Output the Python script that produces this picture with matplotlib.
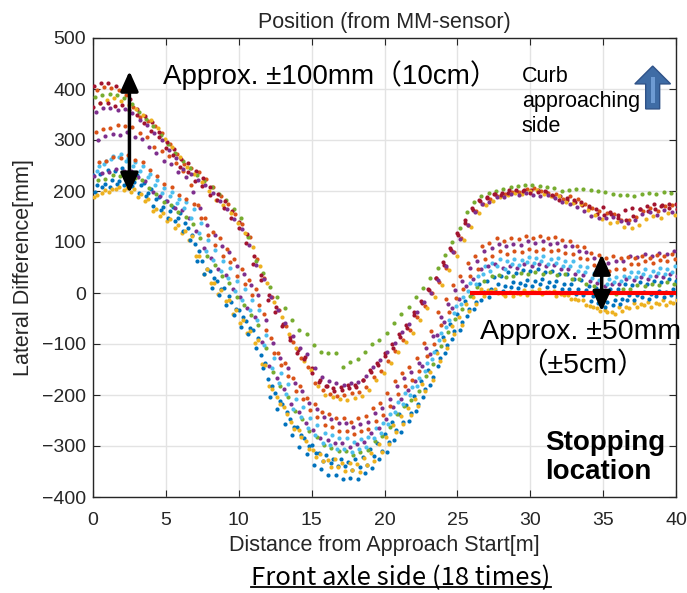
import numpy as np
import matplotlib
matplotlib.use("Agg")
import matplotlib.pyplot as plt
from matplotlib.patches import FancyArrow, Rectangle
from matplotlib.lines import Line2D

plt.rcParams['font.family'] = ['Liberation Sans', 'Noto Sans CJK JP', 'DejaVu Sans']

# lateral difference [mm] of each run, sampled every 0.5 m from the approach start
run01 = [232, 233, 241, 240, 245, 236, 231, 216, 204, 188,
         181, 168, 157, 128, 97, 63, 44, 23, 10, -17,
         -33, -54, -73, -122, -168, -197, -218, -247, -263, -285,
         -298, -314, -318, -325, -325, -332, -326, -322, -305, -295,
         -277, -253, -237, -220, -202, -173, -150, -113, -87, -60,
         -42, -16, -2, 17, 23, 32, 33, 42, 40, 46,
         43, 47, 42, 44, 38, 37, 28, 26, 14, 10,
         3, 7, 8, 17, 16, 22, 18, 24, 22, 27,
         23]
run02 = [398, 403, 402, 398, 388, 365, 345, 337, 328, 313,
         292, 272, 253, 245, 237, 223, 208, 190, 174, 155,
         136, 110, 67, 30, -8, -33, -65, -97, -127, -145,
         -177, -190, -198, -202, -200, -196, -195, -185, -165, -152,
         -133, -113, -92, -73, -48, -25, 0, 22, 50, 80,
         108, 133, 160, 175, 184, 190, 194, 199, 198, 204,
         205, 200, 196, 195, 185, 190, 184, 175, 166, 160,
         156, 154, 144, 143, 149, 160, 166, 160, 170, 172,
         172]
run03 = [188, 196, 199, 204, 201, 199, 188, 180, 160, 151,
         142, 128, 117, 103, 72, 38, 19, -2, -15, -42,
         -58, -79, -98, -140, -182, -203, -223, -252, -268, -290,
         -307, -315, -327, -326, -334, -333, -336, -323, -314, -296,
         -282, -258, -242, -225, -207, -178, -155, -118, -92, -65,
         -47, -21, -7, 7, 6, 7, -2, 2, 0, 6,
         3, 7, 2, 4, -2, -3, -12, -14, -26, -30,
         -33, -37, -28, -27, -20, -22, -18, -20, -14, -17,
         -13]
run04 = [300, 308, 312, 310, 315, 306, 302, 286, 274, 258,
         252, 238, 227, 198, 167, 133, 114, 93, 80, 53,
         37, 16, -3, -52, -98, -127, -148, -177, -193, -215,
         -228, -244, -248, -255, -255, -262, -256, -252, -235, -225,
         -207, -183, -167, -155, -137, -108, -85, -48, -22, 5,
         23, 49, 63, 82, 88, 97, 92, 97, 95, 101,
         98, 102, 97, 99, 93, 92, 83, 81, 69, 65,
         58, 62, 63, 72, 71, 77, 73, 79, 77, 82,
         78]
run05 = [385, 388, 390, 388, 383, 370, 355, 342, 328, 310,
         292, 275, 258, 245, 232, 220, 208, 195, 182, 165,
         148, 110, 62, 40, 12, -8, -30, -52, -72, -80,
         -102, -115, -118, -117, -145, -136, -130, -115, -100, -92,
         -78, -58, -42, -28, -8, 10, 30, 50, 75, 100,
         128, 158, 178, 190, 196, 200, 204, 207, 210, 212,
         211, 210, 208, 205, 200, 202, 204, 203, 201, 200,
         198, 194, 192, 193, 191, 195, 196, 195, 198, 197,
         200]
run06 = [249, 258, 268, 272, 265, 257, 249, 233, 221, 205,
         199, 185, 178, 165, 137, 103, 84, 63, 50, 23,
         7, -14, -33, -82, -128, -157, -178, -207, -223, -245,
         -258, -274, -278, -285, -285, -292, -286, -282, -265, -255,
         -237, -213, -197, -185, -167, -138, -115, -78, -52, -25,
         -7, 19, 33, 52, 58, 67, 62, 67, 65, 71,
         68, 72, 67, 69, 63, 62, 53, 51, 39, 35,
         28, 32, 33, 42, 41, 47, 43, 49, 47, 52,
         48]
run07 = [405, 412, 412, 406, 398, 380, 360, 347, 336, 315,
         297, 283, 263, 255, 240, 225, 208, 195, 180, 160,
         140, 115, 72, 35, -3, -28, -60, -87, -112, -125,
         -147, -170, -183, -192, -190, -186, -185, -170, -155, -142,
         -123, -108, -87, -68, -43, -20, 5, 30, 55, 85,
         113, 138, 163, 180, 188, 195, 196, 202, 200, 202,
         201, 202, 198, 190, 190, 182, 179, 173, 166, 155,
         153, 154, 147, 143, 151, 165, 161, 165, 173, 167,
         165]
run08 = [212, 214, 221, 220, 225, 217, 211, 196, 184, 169,
         161, 148, 137, 113, 82, 48, 29, 8, -5, -32,
         -48, -69, -88, -137, -183, -212, -233, -262, -278, -300,
         -313, -329, -333, -340, -340, -347, -341, -337, -320, -310,
         -292, -268, -252, -235, -217, -188, -165, -128, -102, -75,
         -57, -31, -17, 2, 8, 17, 13, 22, 20, 26,
         23, 27, 22, 24, 18, 17, 8, 6, -6, -10,
         -17, -13, -12, -3, -4, 2, -2, 4, 2, 7,
         3]
run09 = [316, 322, 324, 330, 327, 325, 314, 306, 286, 278,
         268, 254, 240, 212, 173, 147, 120, 107, 86, 67,
         47, 26, 7, -42, -88, -117, -138, -167, -183, -205,
         -218, -234, -238, -245, -245, -252, -246, -242, -225, -215,
         -197, -173, -157, -145, -127, -98, -75, -38, -12, 15,
         33, 59, 73, 92, 98, 107, 102, 107, 105, 111,
         108, 112, 107, 109, 103, 102, 93, 91, 79, 75,
         68, 72, 68, 71, 69, 73, 68, 74, 72, 77,
         78]
run10 = [372, 378, 382, 376, 368, 360, 350, 340, 323, 302,
         287, 267, 248, 233, 217, 200, 183, 173, 157, 137,
         118, 90, 52, 20, -18, -48, -80, -107, -134, -150,
         -182, -200, -203, -207, -210, -206, -202, -190, -170, -157,
         -138, -116, -97, -78, -53, -30, -8, 15, 45, 72,
         103, 130, 156, 172, 181, 188, 192, 197, 195, 200,
         201, 195, 190, 190, 178, 177, 174, 163, 153, 145,
         138, 139, 130, 128, 133, 145, 151, 147, 156, 152,
         152]
run11 = [229, 236, 238, 243, 240, 239, 227, 219, 199, 191,
         181, 167, 162, 148, 122, 88, 69, 48, 35, 8,
         -8, -29, -48, -97, -143, -167, -188, -217, -233, -255,
         -268, -284, -288, -295, -295, -302, -296, -292, -275, -265,
         -247, -223, -207, -190, -172, -143, -120, -83, -57, -30,
         -12, 14, 28, 47, 53, 56, 50, 52, 50, 56,
         53, 57, 52, 54, 48, 47, 38, 36, 24, 20,
         13, 17, 18, 27, 26, 32, 28, 34, 32, 37,
         33]
run12 = [222, 223, 232, 230, 235, 226, 222, 206, 194, 178,
         172, 158, 150, 135, 107, 73, 54, 33, 20, -7,
         -23, -44, -63, -108, -155, -182, -203, -232, -248, -270,
         -283, -299, -303, -310, -310, -317, -311, -307, -290, -280,
         -262, -238, -222, -210, -192, -163, -140, -103, -77, -50,
         -32, -6, 12, 23, 33, 36, 32, 33, 39, 37,
         42, 38, 41, 35, 37, 28, 27, 17, 13, 1,
         2, -2, 7, 8, 15, 13, 17, 15, 21, 18,
         22]
run13 = [240, 252, 262, 266, 258, 250, 240, 228, 212, 196,
         190, 176, 167, 148, 117, 83, 64, 43, 30, 3,
         -13, -34, -53, -102, -148, -177, -198, -227, -243, -265,
         -278, -294, -298, -305, -305, -312, -306, -302, -285, -275,
         -257, -233, -217, -200, -182, -153, -130, -93, -67, -40,
         -22, 4, 18, 37, 43, 52, 48, 57, 55, 61,
         58, 62, 57, 59, 53, 52, 43, 41, 29, 25,
         18, 22, 23, 32, 31, 37, 33, 39, 37, 42,
         38]
run14 = [365, 373, 372, 366, 368, 358, 350, 334, 318, 305,
         284, 270, 248, 237, 220, 210, 193, 183, 167, 147,
         128, 98, 57, 25, -13, -38, -65, -92, -117, -130,
         -157, -175, -183, -187, -185, -181, -180, -170, -150, -137,
         -118, -100, -80, -63, -38, -15, 8, 30, 60, 88,
         118, 143, 166, 182, 186, 194, 192, 197, 202, 200,
         196, 198, 200, 193, 182, 187, 182, 178, 171, 165,
         168, 159, 152, 163, 166, 165, 171, 175, 170, 175,
         175]
run15 = [198, 207, 208, 214, 211, 209, 197, 190, 170, 162,
         148, 142, 122, 103, 62, 37, 10, -3, -24, -43,
         -67, -80, -108, -147, -203, -228, -257, -278, -302, -316,
         -337, -345, -357, -356, -364, -363, -365, -353, -344, -326,
         -312, -288, -272, -250, -232, -203, -180, -143, -117, -90,
         -72, -46, -32, -13, -7, 2, 3, 12, 10, 16,
         13, 17, 12, 14, 8, 7, -2, -4, -16, -20,
         -27, -23, -22, -13, -14, -8, -12, -6, -8, -3,
         -7]
run16 = [257, 258, 267, 265, 270, 261, 257, 241, 229, 213,
         207, 193, 185, 175, 147, 113, 94, 73, 60, 33,
         17, -4, -23, -72, -118, -142, -163, -192, -208, -230,
         -243, -259, -263, -270, -270, -277, -271, -267, -250, -240,
         -222, -198, -182, -170, -152, -123, -100, -63, -37, -10,
         8, 34, 48, 67, 73, 82, 77, 82, 80, 86,
         83, 87, 82, 84, 78, 77, 68, 66, 54, 50,
         43, 47, 48, 57, 56, 62, 58, 64, 62, 67,
         63]
run17 = [193, 201, 204, 208, 206, 204, 194, 185, 165, 156,
         146, 133, 121, 112, 73, 47, 20, 6, -14, -33,
         -53, -74, -93, -142, -188, -217, -238, -267, -283, -305,
         -322, -330, -342, -341, -349, -348, -350, -338, -329, -311,
         -297, -273, -257, -240, -222, -193, -170, -133, -107, -80,
         -62, -36, -22, -5, 3, 0, -6, -6, -1, -3,
         2, -2, 1, -5, -3, -12, -14, -23, -28, -36,
         -38, -41, -36, -29, -28, -24, -27, -22, -23, -19,
         -21]
run18 = [355, 363, 362, 358, 361, 352, 340, 330, 313, 300,
         280, 265, 243, 233, 222, 212, 196, 180, 164, 145,
         126, 95, 54, 28, -8, -33, -58, -84, -107, -120,
         -147, -165, -173, -177, -180, -176, -175, -163, -145, -132,
         -116, -98, -77, -60, -38, -18, 0, 25, 53, 80,
         106, 133, 158, 175, 178, 188, 189, 195, 192, 197,
         193, 190, 193, 187, 178, 174, 169, 161, 151, 148,
         148, 149, 142, 138, 143, 155, 158, 153, 163, 159,
         160]

runs = [run01, run02, run03, run04, run05, run06, run07, run08, run09,
        run10, run11, run12, run13, run14, run15, run16, run17, run18]
# distance of the first sample of each run [m]
x_first = [0.0, 0.25, 0.1, 0.35, 0.15, 0.4, 0.05, 0.3, 0.2,
           0.45, 0.1, 0.35, 0.25, 0.0, 0.15, 0.4, 0.3, 0.2]
step = 0.5

colors = ['#0072BD', '#D95319', '#EDB120', '#7E2F8E',
          '#77AC30', '#4DBEEE', '#A2142F']

fig = plt.figure(figsize=(6.87, 5.93), dpi=100)
ax = fig.add_axes([93 / 687, 1 - 497 / 593, (676 - 93) / 687, (497 - 38) / 593])

for i, vals in enumerate(runs):
    xs = x_first[i] + step * np.arange(len(vals))
    ax.scatter(xs, vals, s=9, color=colors[i % 7], linewidths=0, zorder=3)

ax.set_xlim(0, 40)
ax.set_ylim(-400, 500)
ax.set_xticks(np.arange(0, 41, 5))
ax.set_yticks(np.arange(-400, 501, 100))
ax.grid(True, color='#E3E3E3', lw=1)
ax.set_axisbelow(True)
ax.tick_params(direction='in', top=True, right=True, length=5, width=0.8,
               labelsize=14, colors='#262626')
ax.tick_params(axis='x', pad=11)
ax.tick_params(axis='y', pad=5)
for sp in ax.spines.values():
    sp.set_linewidth(1.0)
    sp.set_color('#262626')

ax.set_title('Position (from MM-sensor)', fontsize=15.5, pad=7, color='#262626')
ax.set_xlabel('Distance from Approach Start[m]', fontsize=15.5, labelpad=4,
              color='#262626')
ax.set_ylabel('Lateral Difference[mm]', fontsize=15.5, labelpad=6,
              color='#262626')

# red reference line at stop
ax.plot([25.9, 40], [0, 0], color='red', lw=3, zorder=4, solid_capstyle='butt')

# double arrows
arrow_style = '<|-|>,head_length=0.6,head_width=0.27'
ax.annotate('', xy=(2.5, 435), xytext=(2.5, 196),
            arrowprops=dict(arrowstyle=arrow_style, color='black', lw=2.5,
                            mutation_scale=20, shrinkA=0, shrinkB=0), zorder=5)
ax.annotate('', xy=(34.9, 76), xytext=(34.9, -36),
            arrowprops=dict(arrowstyle=arrow_style, color='black', lw=2.5,
                            mutation_scale=20, shrinkA=0, shrinkB=0), zorder=5)

ax.text(4.8, 427, 'Approx. ±100mm（10cm）', fontsize=20,
        ha='left', va='center', zorder=6)
ax.text(26.55, -76, 'Approx. ±50mm', fontsize=20.5,
        ha='left', va='center', zorder=6, clip_on=False)
ax.text(33.6, -143, '（±5cm）', fontsize=20.5,
        ha='center', va='center', zorder=6)
ax.text(31.0, -322, 'Stopping\nlocation', fontsize=20,
        fontweight='bold', ha='left', va='center', linespacing=1.15, zorder=6)
ax.text(29.43, 375, 'Curb\napproaching\nside', fontsize=15.5,
        ha='left', va='center', linespacing=1.25, zorder=6)

# blue "curb side" arrow
ax.add_patch(FancyArrow(38.4, 361, 0, 84, width=0.96, head_width=2.45,
                        head_length=35, length_includes_head=True,
                        fc='#3F6CA5', ec='#2F5288', lw=1, zorder=6, clip_on=False))
ax.add_patch(Rectangle((38.27, 373), 0.27, 51, fc='#6E9BD3', ec='none',
                       zorder=7, clip_on=False))

cap = fig.text(401 / 687, 1 - 578 / 593, 'Front axle side (18 times)',
               fontsize=18.5, ha='center', va='center',
               family=['Noto Sans CJK JP', 'DejaVu Sans'])
fig.canvas.draw()
bb = cap.get_window_extent().transformed(fig.transFigure.inverted())
fig.add_artist(Line2D([bb.x0, bb.x1], [bb.y0 + 0.006, bb.y0 + 0.006],
                      transform=fig.transFigure, color='black', lw=1.3))

fig.savefig('out.png', dpi=100)
